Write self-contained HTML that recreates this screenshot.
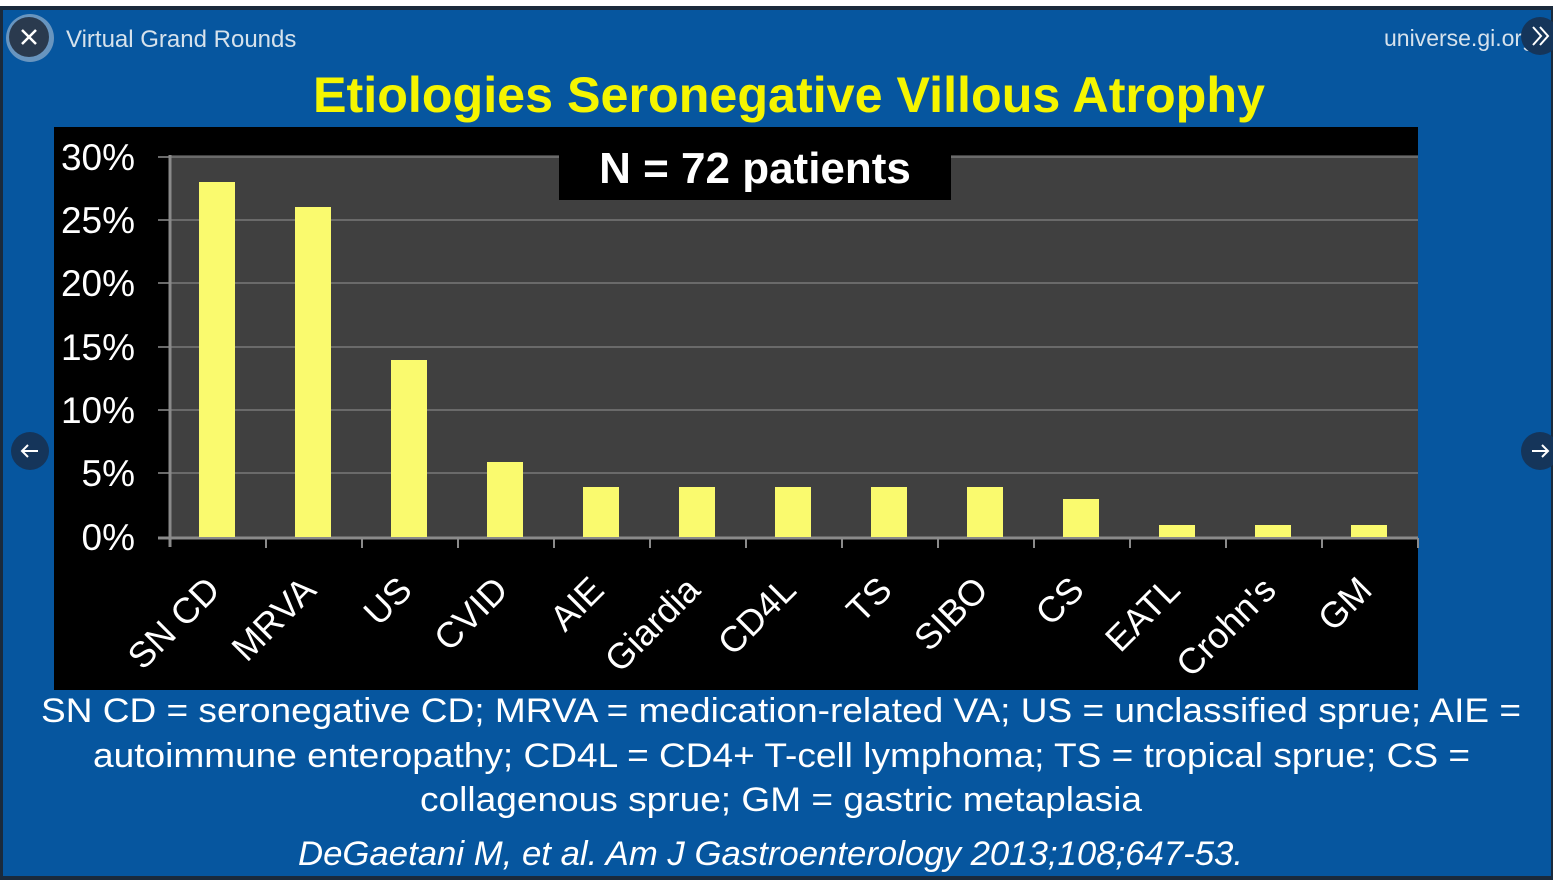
<!DOCTYPE html>
<html><head><meta charset="utf-8"><style>
html,body{margin:0;padding:0;width:1553px;height:880px;overflow:hidden;background:#fff}
svg{display:block}
</style></head><body>
<svg width="1553" height="880" viewBox="0 0 1553 880" xmlns="http://www.w3.org/2000/svg" font-family="Liberation Sans, Arial, sans-serif">
<rect x="0" y="0" width="1553" height="880" fill="#fff"/>
<rect x="0" y="6" width="1553" height="874" fill="#1a2a3c"/>
<rect x="3" y="10" width="1548" height="866" fill="#06569f"/>
<!-- header -->
<circle cx="30" cy="38" r="24" fill="#c9d4e0" opacity="0.5"/>
<circle cx="29" cy="37" r="20" fill="#2a3a4e"/>
<path d="M22 30 L36 44 M36 30 L22 44" stroke="#fff" stroke-width="2.5"/>
<text x="66" y="47" fill="#d6e2ec" font-size="24">Virtual Grand Rounds</text>
<text x="1384" y="46" fill="#d6e2ec" font-size="23">universe.gi.org</text>
<circle cx="1540" cy="36" r="19" fill="#15355a"/>
<path d="M1533 27 L1541 36 L1533 45 M1540 27 L1548 36 L1540 45" stroke="#fff" stroke-width="2" fill="none"/>
<text x="313" y="112" fill="#f5f500" font-size="50" font-weight="bold" textLength="952" lengthAdjust="spacingAndGlyphs">Etiologies Seronegative Villous Atrophy</text>
<!-- chart -->
<rect x="54" y="127" width="1364" height="563" fill="#000"/>
<rect x="171" y="155" width="1247" height="382" fill="#404040"/>
<g stroke="#6a6a6a" stroke-width="2">
<line x1="158" y1="157" x2="1418" y2="157"/>
<line x1="158" y1="220" x2="1418" y2="220"/>
<line x1="158" y1="283" x2="1418" y2="283"/>
<line x1="158" y1="347" x2="1418" y2="347"/>
<line x1="158" y1="410" x2="1418" y2="410"/>
<line x1="158" y1="473" x2="1418" y2="473"/>
</g>
<g stroke="#8a8a8a" stroke-width="3">
<line x1="170" y1="155" x2="170" y2="547"/>
<line x1="158" y1="538" x2="1418" y2="538"/>
</g>
<g stroke="#8a8a8a" stroke-width="2">
<line x1="266" y1="538" x2="266" y2="548"/><line x1="362" y1="538" x2="362" y2="548"/><line x1="458" y1="538" x2="458" y2="548"/><line x1="554" y1="538" x2="554" y2="548"/><line x1="650" y1="538" x2="650" y2="548"/><line x1="746" y1="538" x2="746" y2="548"/><line x1="842" y1="538" x2="842" y2="548"/><line x1="938" y1="538" x2="938" y2="548"/><line x1="1034" y1="538" x2="1034" y2="548"/><line x1="1130" y1="538" x2="1130" y2="548"/><line x1="1226" y1="538" x2="1226" y2="548"/><line x1="1322" y1="538" x2="1322" y2="548"/><line x1="1418" y1="538" x2="1418" y2="548"/>
</g>
<g fill="#fafa6e">
<rect x="199" y="182" width="36" height="355"/>
<rect x="295" y="207" width="36" height="330"/>
<rect x="391" y="360" width="36" height="177"/>
<rect x="487" y="462" width="36" height="75"/>
<rect x="583" y="487" width="36" height="50"/>
<rect x="679" y="487" width="36" height="50"/>
<rect x="775" y="487" width="36" height="50"/>
<rect x="871" y="487" width="36" height="50"/>
<rect x="967" y="487" width="36" height="50"/>
<rect x="1063" y="499" width="36" height="38"/>
<rect x="1159" y="525" width="36" height="12"/>
<rect x="1255" y="525" width="36" height="12"/>
<rect x="1351" y="525" width="36" height="12"/>
</g>
<g fill="#fff" font-size="37" text-anchor="end">
<text x="135" y="170">30%</text>
<text x="135" y="233">25%</text>
<text x="135" y="296">20%</text>
<text x="135" y="360">15%</text>
<text x="135" y="423">10%</text>
<text x="135" y="486">5%</text>
<text x="135" y="550">0%</text>
</g>
<rect x="559" y="127" width="392" height="73" fill="#000"/>
<text x="755" y="183" fill="#fff" font-size="44" font-weight="bold" text-anchor="middle">N = 72 patients</text>
<g fill="#fff" font-size="36" text-anchor="end">
<text transform="translate(222,592) rotate(-45)">SN CD</text>
<text transform="translate(318,592) rotate(-45)">MRVA</text>
<text transform="translate(414,592) rotate(-45)">US</text>
<text transform="translate(510,592) rotate(-45)">CVID</text>
<text transform="translate(606,592) rotate(-45)">AIE</text>
<text transform="translate(702,592) rotate(-45)">Giardia</text>
<text transform="translate(798,592) rotate(-45)">CD4L</text>
<text transform="translate(894,592) rotate(-45)">TS</text>
<text transform="translate(990,592) rotate(-45)">SIBO</text>
<text transform="translate(1086,592) rotate(-45)">CS</text>
<text transform="translate(1182,592) rotate(-45)">EATL</text>
<text transform="translate(1278,592) rotate(-45)">Crohn's</text>
<text transform="translate(1374,592) rotate(-45)">GM</text>
</g>
<!-- nav -->
<circle cx="30" cy="451" r="19" fill="#15355a"/>
<path d="M38 451 H22 M28 445 L22 451 L28 457" stroke="#fff" stroke-width="2" fill="none"/>
<circle cx="1540" cy="451" r="19" fill="#15355a"/>
<path d="M1532 451 H1548 M1542 445 L1548 451 L1542 457" stroke="#fff" stroke-width="2" fill="none"/>
<!-- footer -->
<g fill="#fff" font-size="34">
<text x="41" y="722" textLength="1480" lengthAdjust="spacingAndGlyphs">SN CD = seronegative CD; MRVA = medication-related VA; US = unclassified sprue; AIE =</text>
<text x="93" y="767" textLength="1377" lengthAdjust="spacingAndGlyphs">autoimmune enteropathy; CD4L = CD4+ T-cell lymphoma; TS = tropical sprue; CS =</text>
<text x="420" y="811" textLength="722" lengthAdjust="spacingAndGlyphs">collagenous sprue; GM = gastric metaplasia</text>
<text x="298" y="865" font-style="italic" textLength="945" lengthAdjust="spacingAndGlyphs">DeGaetani M, et al. Am J Gastroenterology 2013;108;647-53.</text>
</g>
</svg>
</body></html>
